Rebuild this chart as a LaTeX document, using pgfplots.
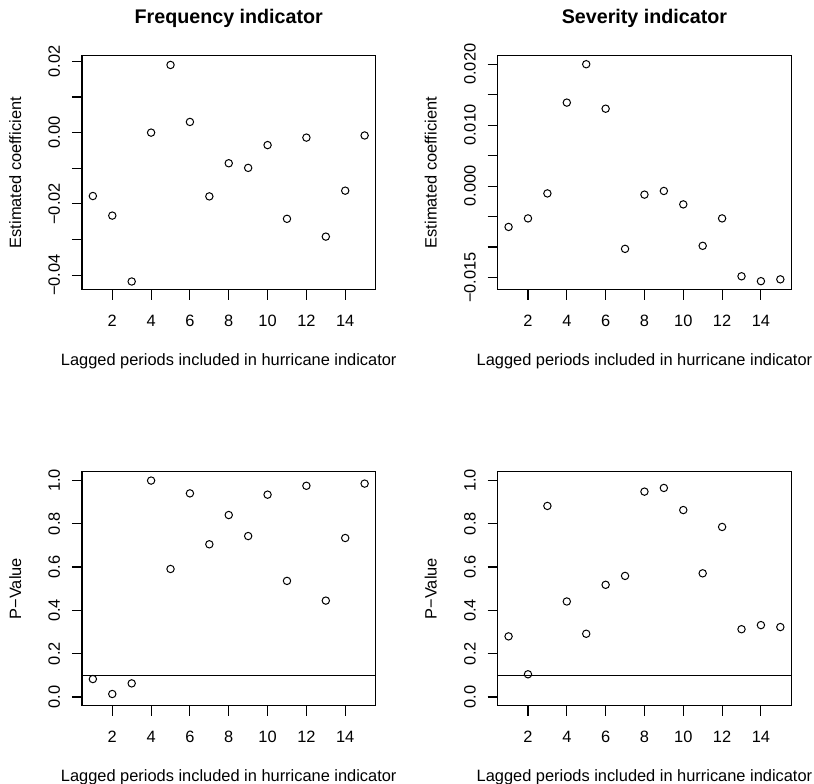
\documentclass[border=0pt]{standalone}
\usepackage{fontspec}
\setmainfont{Liberation Sans}
\usepackage{pgfplots}
\pgfplotsset{compat=1.18}

\newcommand\fs{\fontsize{16.4bp}{19bp}\selectfont}
\newcommand\ts{\fontsize{19.7bp}{23bp}\selectfont\bfseries}

\pgfplotsset{
  rpanel/.style={
    scale only axis, width=293.5bp, height=234bp,
    anchor=south west,
    xmin=0.44, xmax=15.56,
    scaled y ticks=false, scaled x ticks=false,
    axis line style={line width=1.1bp},
    every tick/.style={black, line width=1.1bp},
    tick align=outside, major tick length=10bp,
    xtick pos=bottom, ytick pos=left,
    xtick={2,4,...,14}, xticklabels={2,4,6,8,10,12,14},
    xticklabel style={font=\fs, anchor=base, inner sep=0pt, yshift=-27bp},
    yticklabel style={font=\fs, xshift=-12bp, rotate=90, anchor=base, inner sep=0pt},
    xlabel style={font=\fs, at={(axis description cs:0.5,-0.3248)}, anchor=base, inner sep=0pt},
    ylabel style={font=\fs, at={(axis description cs:-0.2078,0.5)}, anchor=base, rotate=0, inner sep=0pt},
    % the default title style already shifts up by 6pt
    title style={font=\ts, at={(axis description cs:0.5,1.111)}, anchor=base, inner sep=0pt},
    xlabel={Lagged periods included in hurricane indicator},
    clip=false,
  },
  pts/.style={only marks, mark=o, mark size=3.7bp, mark options={line width=1bp, black}},
}

\begin{document}
\begin{tikzpicture}
\useasboundingbox (0,0) rectangle (814bp,784bp);

% top left: frequency, coefficient
\begin{axis}[rpanel, at={(82bp,494.3bp)},
  title={Frequency indicator}, ylabel={Estimated coefficient},
  ymin=-0.0441, ymax=0.0216,
  ytick={-0.04,-0.03,-0.02,-0.01,0,0.01,0.02},
  yticklabels={−0.04,,−0.02,,0.00,,0.02}]
\addplot[pts] coordinates {(1,-0.0178) (2,-0.0233) (3,-0.0418) (4,0.0000) (5,0.0190)
  (6,0.0030) (7,-0.0179) (8,-0.0086) (9,-0.0099) (10,-0.0035) (11,-0.0242)
  (12,-0.0014) (13,-0.0292) (14,-0.0163) (15,-0.0008)};
\end{axis}

% top right: severity, coefficient
\begin{axis}[rpanel, at={(497.7bp,494.3bp)},
  title={Severity indicator}, ylabel={Estimated coefficient},
  ymin=-0.0170, ymax=0.0214,
  ytick={-0.015,-0.010,-0.005,0,0.005,0.010,0.015,0.020},
  yticklabels={−0.015,,,0.000,,0.010,,0.020}]
\addplot[pts] coordinates {(1,-0.0067) (2,-0.0053) (3,-0.0012) (4,0.0137) (5,0.0200)
  (6,0.0127) (7,-0.0103) (8,-0.0014) (9,-0.0008) (10,-0.0030) (11,-0.0098)
  (12,-0.0053) (13,-0.0148) (14,-0.0156) (15,-0.0153)};
\end{axis}

% bottom left: frequency, p-value
\begin{axis}[rpanel, at={(82bp,78.3bp)},
  ylabel={P−Value}, ymin=-0.04, ymax=1.04,
  ytick={0,0.2,0.4,0.6,0.8,1.0},
  yticklabels={0.0,0.2,0.4,0.6,0.8,1.0}]
\addplot[black, line width=1.1bp] coordinates {(0.44,0.1) (15.56,0.1)};
\addplot[pts] coordinates {(1,0.083) (2,0.014) (3,0.063) (4,0.999) (5,0.591)
  (6,0.940) (7,0.705) (8,0.840) (9,0.743) (10,0.934) (11,0.536)
  (12,0.975) (13,0.445) (14,0.734) (15,0.985)};
\end{axis}

% bottom right: severity, p-value
\begin{axis}[rpanel, at={(497.7bp,78.3bp)},
  ylabel={P−Value}, ymin=-0.04, ymax=1.04,
  ytick={0,0.2,0.4,0.6,0.8,1.0},
  yticklabels={0.0,0.2,0.4,0.6,0.8,1.0}]
\addplot[black, line width=1.1bp] coordinates {(0.44,0.1) (15.56,0.1)};
\addplot[pts] coordinates {(1,0.280) (2,0.105) (3,0.882) (4,0.441) (5,0.292)
  (6,0.518) (7,0.559) (8,0.948) (9,0.965) (10,0.863) (11,0.571)
  (12,0.785) (13,0.313) (14,0.332) (15,0.323)};
\end{axis}
\end{tikzpicture}
\end{document}
